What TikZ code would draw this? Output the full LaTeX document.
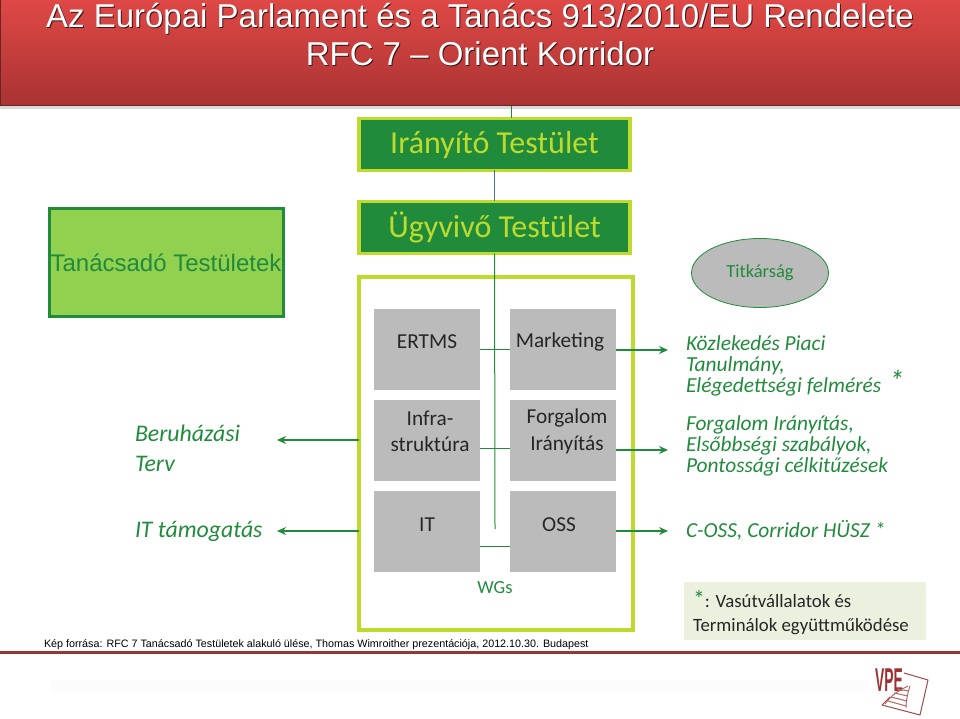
\documentclass[tikz,border=0pt]{standalone}
\usepackage{fontspec}
\setmainfont{Carlito}
\newfontfamily\arialfont{Liberation Sans}
\usepackage{tikz}
\usetikzlibrary{arrows.meta,positioning,calc,shapes.geometric,shadows}
\definecolor{darkgreen}{RGB}{33,139,60}
\definecolor{limegreen}{RGB}{190,219,45}
\definecolor{softgreen}{RGB}{146,208,80}
\definecolor{boxgray}{RGB}{187,187,187}
\definecolor{barred}{RGB}{150,52,54}
\definecolor{titletop}{RGB}{222,72,70}
\definecolor{titlemid}{RGB}{196,62,60}
\definecolor{titlelow}{RGB}{168,50,50}
\definecolor{noteback}{RGB}{235,241,222}
\definecolor{slateline}{RGB}{70,120,125}
\tikzset{
  body/.style={draw=limegreen, line width=3.5pt, fill=darkgreen, text=limegreen,
               minimum width=271pt, minimum height=52pt, font=\fontsize{32}{34}\selectfont},
  wg/.style={fill=boxgray, minimum width=106pt, minimum height=81pt},
  wgtext/.style={text=black!85, align=center, font=\fontsize{21.3}{26.5}\selectfont},
  note/.style={anchor=west, align=left, text=darkgreen, font=\itshape\fontsize{21.4}{21}\selectfont},
  link/.style={darkgreen, line width=1pt},
  arrow/.style={-{Stealth[length=9pt,width=8pt]}, darkgreen, line width=1.4pt},
}
\begin{document}
\begin{tikzpicture}[x=1pt, y=-1pt, inner sep=0pt, outer sep=0pt]
  \useasboundingbox (0,0) rectangle (960,719);

  % title bar
  \node[anchor=north west, minimum width=960pt, minimum height=106pt, draw=barred!70!black,
        line width=1pt, top color=titletop, bottom color=titlelow, middle color=titlemid,
        drop shadow={shadow xshift=0pt, shadow yshift=-3pt, opacity=.3}] (title) at (0,0) {};
  \node[text=black!60!barred, align=center, font=\arialfont\fontsize{33}{38}\selectfont] (titleshade) at (481,36)
    {Az Európai Parlament és a Tanács 913/2010/EU Rendelete\\RFC 7 – Orient Korridor};
  \node[text=white, align=center, font=\arialfont\fontsize{33}{38}\selectfont] (titletext) at (480,35)
    {Az Európai Parlament és a Tanács 913/2010/EU Rendelete\\RFC 7 – Orient Korridor};

  % bodies
  \node[body] (steering) at (494.5,144.5) {\raisebox{-3pt}{Irányító Testület}};
  \node[body, below=31pt of steering] (agent) {\raisebox{-3pt}{Ügyvivő Testület}};
  \node[draw=limegreen, line width=4pt, minimum width=274pt, minimum height=353pt,
        anchor=north west] (wgs) at (359,277) {};
  \node[draw=darkgreen, line width=3pt, fill=softgreen, minimum width=234pt, minimum height=107pt,
        text=darkgreen, font=\arialfont\fontsize{24}{26}\selectfont] (advisory) at (166,262.5) {Tanácsadó Testületek};
  \node[ellipse, draw=darkgreen, fill=boxgray, minimum width=137pt, minimum height=69pt, line width=0.8pt,
        text=darkgreen, font=\fontsize{18.5}{20}\selectfont] (office) at (760,273) {Titkárság};

  % working groups
  \node[wg, anchor=north west, label={[yshift=8pt, wgtext]center:ERTMS}] (ertms) at (374,309) {};
  \node[wg, right=30pt of ertms, label={[yshift=8pt, xshift=-3pt, wgtext]center:Marketing}] (marketing) {};
  \node[wg, below=10pt of ertms, label={[yshift=9pt, xshift=3pt, wgtext]center:Infra-\\struktúra}] (infra) {};
  \node[wg, below=10pt of marketing, label={[yshift=9pt, xshift=4pt, wgtext]center:Forgalom\\Irányítás}] (traffic) {};
  \node[wg, below=10pt of infra, label={[yshift=7pt, wgtext]center:IT}] (it) {};
  \node[wg, below=10pt of traffic, label={[yshift=7pt, xshift=-4pt, wgtext]center:OSS}] (oss) {};
  \node[text=darkgreen, font=\fontsize{18.5}{20}\selectfont] (wglabel) at (495,588) {WGs};

  % side texts
  \node[note] (study) at (686,366) {Közlekedés Piaci\\Tanulmány,\\Elégedettségi felmérés};
  \node[note] (rules) at (686,446) {Forgalom Irányítás,\\Elsőbbségi szabályok,\\Pontossági célkitűzések};
  \node[note] (coss) at (686,530) {C-OSS, Corridor HÜSZ *};
  \node[note, font=\itshape\fontsize{30}{30}\selectfont] (star) at (889,381) {*};
  \node[note, font=\itshape\fontsize{23.8}{30}\selectfont] (invest) at (135,448) {Beruházási\\Terv};
  \node[note, font=\itshape\fontsize{23.8}{30}\selectfont] (itsupport) at (135,531) {IT támogatás};

  % footnote and source
  \node[anchor=north west, fill=noteback, minimum width=242pt, minimum height=58pt] (notebox) at (684,582) {};
  \node[anchor=west, align=left, font=\fontsize{18.8}{24}\selectfont, text=black!85] (notetext) at (693,613)
    {{\color{darkgreen}\fontsize{24}{24}\selectfont *}: Vasútvállalatok és\\Terminálok együttműködése};
  \node[anchor=west, font=\arialfont\fontsize{10.75}{13}\selectfont] (source) at (44,645)
    {Kép forrása: RFC 7 Tanácsadó Testületek alakuló ülése, Thomas Wimroither prezentációja, 2012.10.30. Budapest};

  % connectors
  \coordinate (topdrop) at (511,106);
  \coordinate (spineend) at (495,529);
  \coordinate (outa) at (668,350);
  \coordinate (outb) at (668,450);
  \coordinate (outc) at (668,531);
  \coordinate (ina) at (277,440);
  \coordinate (inb) at (277,531);
  \draw[link] (topdrop) -- (topdrop |- steering.north);
  \draw[link, slateline] (steering) -- (agent);
  \draw[link] (agent) -- (spineend);
  \draw[link] (ertms) -- (marketing);
  \draw[link] ([yshift=-7.5pt]infra.east) -- ([yshift=-7.5pt]traffic.west);
  \draw[link] ([yshift=-15pt]it.east) -- ([yshift=-15pt]oss.west);
  \draw[arrow] (marketing.east |- outa) -- (outa);
  \draw[arrow] (traffic.east |- outb) -- (outb);
  \draw[arrow] (oss.east |- outc) -- (outc);
  \draw[arrow] (wgs.west |- ina) -- (ina);
  \draw[arrow] (wgs.west |- inb) -- (inb);

  % footer and logo
  \draw[barred, line width=3pt] (0,652) -- (960,652);
  \fill[gray!2] (50,680) rectangle (870,692);
  \node[anchor=center, text=barred!90!red, font=\arialfont\bfseries\fontsize{33}{33}\selectfont, xscale=0.42] (logo) at (889,680) {VPE};
  \draw[barred!90, line width=1pt, line join=round] (904,673) -- (928,680) -- (920,715) -- (882,705) -- (890,697);
  \draw[barred!80, line width=0.9pt] (885,704) .. controls (892,694) and (900,690) .. (908,686)
    (906,708) .. controls (906,700) and (908,692) .. (910,686);
  \foreach \k in {0,1,2,3}
    \draw[barred!70, line width=1.1pt] (888+\k*3,701-\k*4) -- (906+\k*1,706-\k*5);
\end{tikzpicture}
\end{document}
